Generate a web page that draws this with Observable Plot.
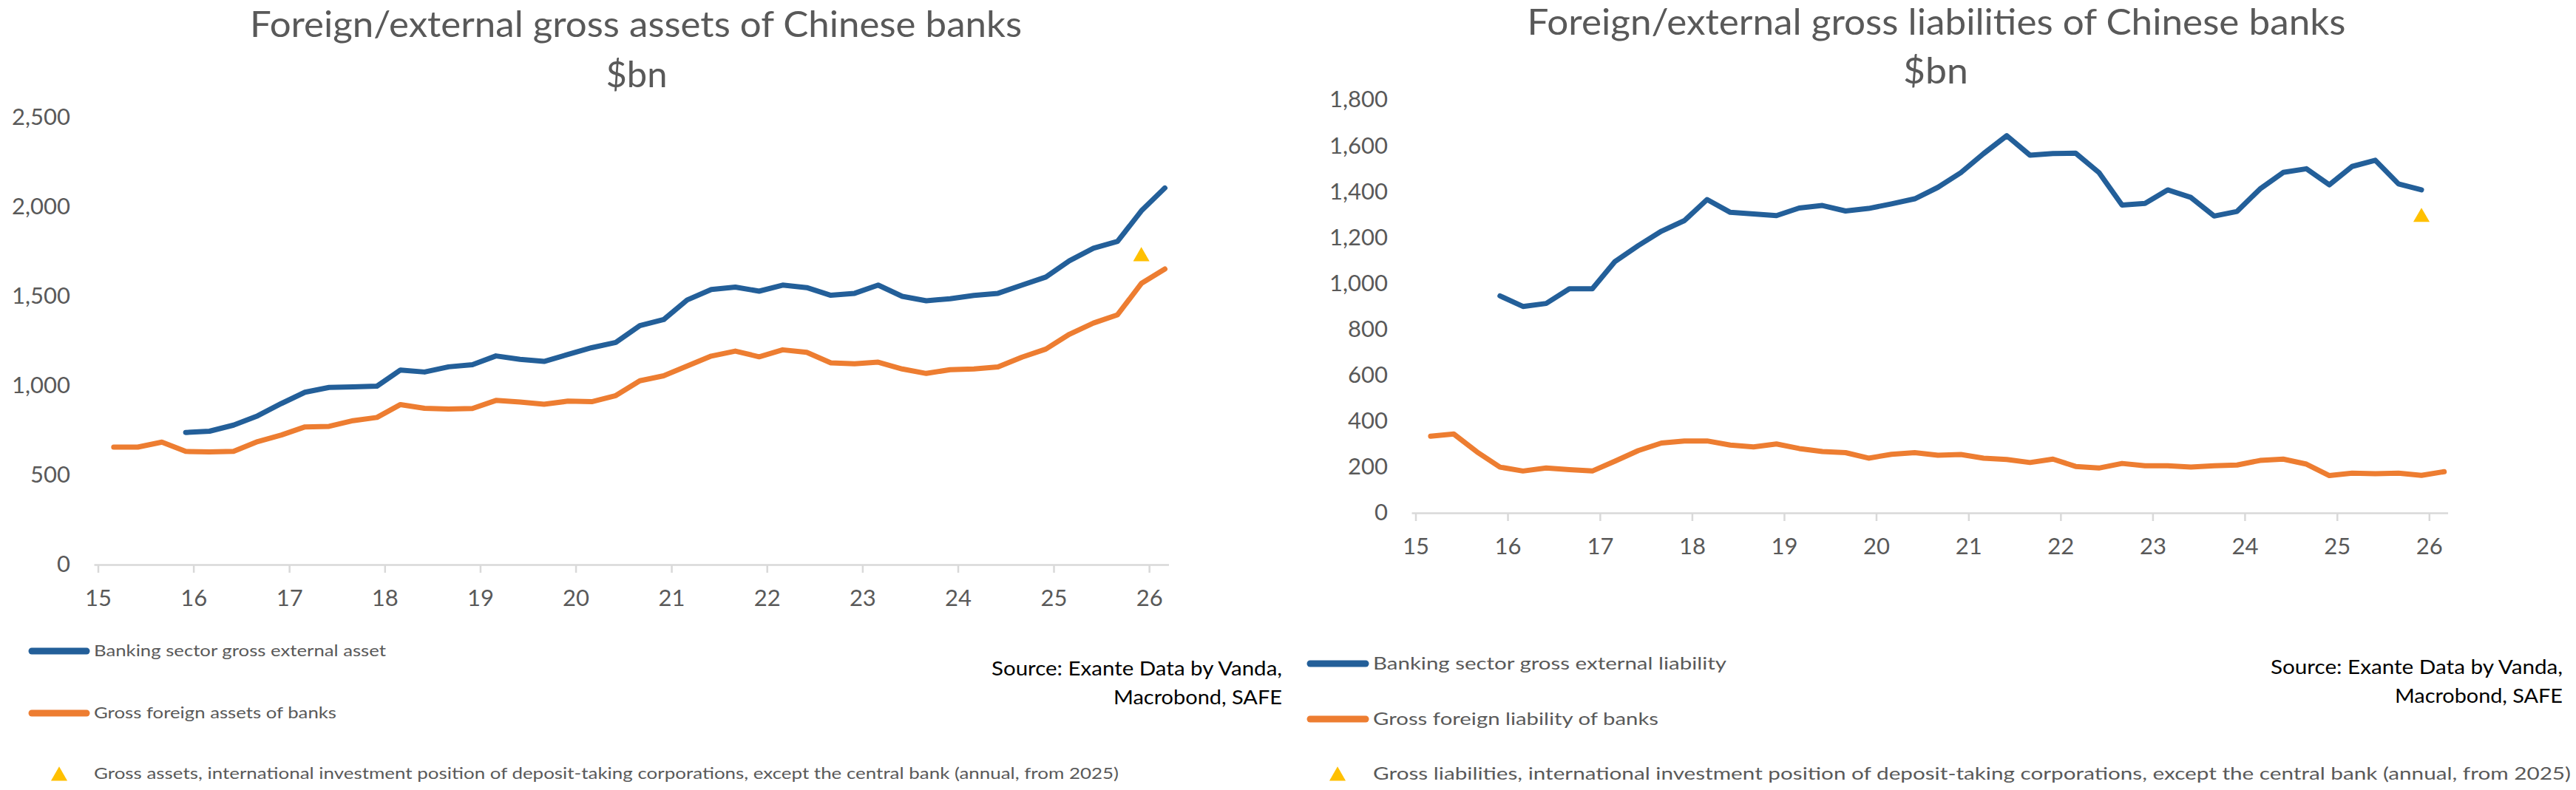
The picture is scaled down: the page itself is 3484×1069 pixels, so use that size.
<!DOCTYPE html>
<html>
<head>
<meta charset="utf-8">
<script src="https://cdn.jsdelivr.net/npm/d3@7"></script>
<script src="https://cdn.jsdelivr.net/npm/@observablehq/plot@0.6"></script>
<style>
  html, body { margin: 0; padding: 0; background: #ffffff; }
  #page { position: relative; width: 3484px; height: 1069px; background: #ffffff; overflow: hidden; }
  #page svg.chart { position: absolute; top: 0; }
  #overlay { position: absolute; left: 0; top: 0; }
</style>
</head>
<body>
<div id="page"></div>
<script>
// ---------- data ----------
const quarters = [
  "2015-03-15","2015-06-15","2015-09-15","2015-12-15",
  "2016-03-15","2016-06-15","2016-09-15","2016-12-15",
  "2017-03-15","2017-06-15","2017-09-15","2017-12-15",
  "2018-03-15","2018-06-15","2018-09-15","2018-12-15",
  "2019-03-15","2019-06-15","2019-09-15","2019-12-15",
  "2020-03-15","2020-06-15","2020-09-15","2020-12-15",
  "2021-03-15","2021-06-15","2021-09-15","2021-12-15",
  "2022-03-15","2022-06-15","2022-09-15","2022-12-15",
  "2023-03-15","2023-06-15","2023-09-15","2023-12-15",
  "2024-03-15","2024-06-15","2024-09-15","2024-12-15",
  "2025-03-15","2025-06-15","2025-09-15","2025-12-15",
  "2026-03-15"
];

// Left chart: gross assets ($bn)
const bankingSectorGrossExternalAsset = [
  null, null, null, 741,
  748, 782, 834, 903,
  966, 993, 996, 1000,
  1090, 1079, 1108, 1120,
  1169, 1150, 1138, 1177,
  1215, 1244, 1338, 1372,
  1482, 1540, 1554, 1531,
  1565, 1551, 1508, 1519,
  1565, 1502, 1477, 1489,
  1507, 1519, 1565, 1610,
  1701, 1771, 1809, 1980,
  2108
];
const grossForeignAssetsOfBanks = [
  659, 659, 687, 635,
  632, 635, 690, 727,
  772, 775, 807, 825,
  897, 876, 872, 875,
  920, 911, 899, 916,
  913, 947, 1030, 1058,
  1113, 1168, 1196, 1164,
  1203, 1189, 1130, 1125,
  1134, 1096, 1071, 1092,
  1096, 1107, 1162, 1207,
  1290, 1353, 1399, 1574,
  1655
];
const iipAssetsDate = ["2025-12-15"];
const iipAssetsValue = [1725];

// Right chart: gross liabilities ($bn)
const bankingSectorGrossExternalLiability = [
  null, null, null, 947,
  901, 914, 978, 978,
  1097, 1166, 1229, 1275,
  1367, 1311, 1304, 1297,
  1330, 1341, 1317, 1328,
  1348, 1370, 1420, 1484,
  1567, 1645, 1560, 1567,
  1569, 1485, 1343, 1350,
  1409, 1376, 1295, 1315,
  1413, 1485, 1501, 1431,
  1511, 1538, 1435, 1409,
  null
];
const grossForeignLiabilityOfBanks = [
  336, 345, 267, 201,
  184, 197, 190, 184,
  227, 273, 306, 315,
  315, 297, 289, 302,
  282, 269, 264, 240,
  257, 264, 253, 256,
  240, 234, 221, 236,
  204, 197, 217, 207,
  207, 201, 207, 210,
  230, 236, 214, 164,
  175, 172, 175, 165,
  181
];
const iipLiabilitiesDate = ["2025-12-15"];
const iipLiabilitiesValue = [1290];

// Axis ticks
const xTickYears = [2015, 2016, 2017, 2018, 2019, 2020, 2021, 2022, 2023, 2024, 2025, 2026];
const xTickLabels = ["15","16","17","18","19","20","21","22","23","24","25","26"];
const yTicksAssets = [0, 500, 1000, 1500, 2000, 2500];
const yTicksLiabilities = [0, 200, 400, 600, 800, 1000, 1200, 1400, 1600, 1800];

// Text
const titles = {
  left: ["Foreign/external gross assets of Chinese banks", "$bn"],
  right: ["Foreign/external gross liabilities of Chinese banks", "$bn"]
};
const legendLeft = [
  "Banking sector gross external asset",
  "Gross foreign assets of banks",
  "Gross assets, international investment position of deposit-taking corporations, except the central bank (annual, from 2025)"
];
const legendRight = [
  "Banking sector gross external liability",
  "Gross foreign liability of banks",
  "Gross liabilities, international investment position of deposit-taking corporations, except the central bank (annual, from 2025)"
];
const sourceLines = ["Source: Exante Data by Vanda,", "Macrobond, SAFE"];

// ---------- style ----------
const BLUE = "#235F99";
const ORANGE = "#ED7D31";
const GOLD = "#FFC000";
const GREY_TEXT = "#595959";
const AXIS_GREY = "#D9D9D9";

const page = document.getElementById("page");
const xDomain = [new Date("2015-01-01"), new Date("2026-04-01")];
const xTickDates = xTickYears.map(y => new Date(Date.UTC(y, 0, 1)));
const fmtTick = d => xTickLabels[xTickYears.indexOf(d.getUTCFullYear())];

function makeChart({blue, orange, triDate, triValue, yMax, yTicks, left, marginLeft, marginRight, marginTop, marginBottom}) {
  const width = 1742, height = 860;
  const rows = quarters.map((q, i) => ({date: new Date(q), blue: blue[i], orange: orange[i]}));
  const tri = triDate.map((d, i) => ({date: new Date(d), value: triValue[i]}));
  const svg = Plot.plot({
    width, height, marginLeft, marginRight, marginTop, marginBottom,
    style: {fontFamily: "Lato, 'Open Sans', sans-serif", fontSize: "31px", color: GREY_TEXT, background: "transparent", overflow: "visible"},
    x: {type: "utc", domain: xDomain, label: null},
    y: {domain: [0, yMax], label: null},
    marks: [
      Plot.axisY({ticks: yTicks, tickSize: 0, tickPadding: 33, tickFormat: d3.format(","), fill: GREY_TEXT, fontSize: 31, label: null}),
      Plot.axisX({ticks: xTickDates, tickFormat: fmtTick, tickSize: 11, tickPadding: 22, stroke: AXIS_GREY, strokeWidth: 2.5, fill: GREY_TEXT, fontSize: 31, dx: 5, label: null}),
      Plot.ruleY([0], {stroke: AXIS_GREY, strokeWidth: 2.5}),
      Plot.line(rows, {x: "date", y: "blue", stroke: BLUE, strokeWidth: 7, strokeLinecap: "round", strokeLinejoin: "round"}),
      Plot.line(rows, {x: "date", y: "orange", stroke: ORANGE, strokeWidth: 7, strokeLinecap: "round", strokeLinejoin: "round"}),
      Plot.dot(tri, {x: "date", y: "value", symbol: "triangle", r: 8.2, fill: GOLD})
    ]
  });
  svg.classList.add("chart");
  svg.style.left = left + "px";
  page.appendChild(svg);
}

makeChart({
  blue: bankingSectorGrossExternalAsset, orange: grossForeignAssetsOfBanks,
  triDate: iipAssetsDate, triValue: iipAssetsValue,
  yMax: 2500, yTicks: yTicksAssets, left: 0,
  marginLeft: 127.5, marginRight: 161, marginTop: 159, marginBottom: 96
});
makeChart({
  blue: bankingSectorGrossExternalLiability, orange: grossForeignLiabilityOfBanks,
  triDate: iipLiabilitiesDate, triValue: iipLiabilitiesValue,
  yMax: 1800, yTicks: yTicksLiabilities, left: 1742,
  marginLeft: 167.5, marginRight: 173, marginTop: 135, marginBottom: 166
});

// ---------- overlay: titles, legends, sources ----------
const ov = d3.select(page).append("svg")
  .attr("id", "overlay").attr("width", 3484).attr("height", 1069)
  .style("font-family", "Lato, 'Open Sans', sans-serif");

function txt(str, x, y, size, len, anchor, color) {
  const t = ov.append("text").attr("x", x).attr("y", y)
    .attr("font-size", size).attr("fill", color).attr("text-anchor", anchor)
    .text(str);
  if (len) t.attr("textLength", len).attr("lengthAdjust", "spacingAndGlyphs");
  return t;
}
function legLine(x1, x2, y, color) {
  ov.append("line").attr("x1", x1).attr("x2", x2).attr("y1", y).attr("y2", y)
    .attr("stroke", color).attr("stroke-width", 9).attr("stroke-linecap", "round");
}
function legTri(cx, cy) {
  ov.append("path").attr("transform", `translate(${cx},${cy})`)
    .attr("d", d3.symbol(d3.symbolTriangle, Math.PI * 8.2 * 8.2)()).attr("fill", GOLD);
}

// titles
txt(titles.left[0], 860, 50, 48, 1044, "middle", GREY_TEXT);
txt(titles.left[1], 861, 118, 48, 83, "middle", GREY_TEXT);
txt(titles.right[0], 2619, 47, 48, 1107, "middle", GREY_TEXT);
txt(titles.right[1], 2618, 113, 48, 88, "middle", GREY_TEXT);

// left legend
legLine(43, 117, 881, BLUE);
txt(legendLeft[0], 127, 888, 22, 395, "start", GREY_TEXT);
legLine(43, 117, 965, ORANGE);
txt(legendLeft[1], 127, 972, 22, 328, "start", GREY_TEXT);
legTri(80, 1050);
txt(legendLeft[2], 127, 1054, 22, 1386, "start", GREY_TEXT);
txt(sourceLines[0], 1734, 914, 26.5, 393, "end", "#000000");
txt(sourceLines[1], 1734, 953, 26.5, 228, "end", "#000000");

// right legend
legLine(1772, 1847, 898, BLUE);
txt(legendRight[0], 1857, 906, 23, 478, "start", GREY_TEXT);
legLine(1772, 1847, 973, ORANGE);
txt(legendRight[1], 1857, 981, 23, 386, "start", GREY_TEXT);
legTri(1809, 1050);
txt(legendRight[2], 1857, 1055, 23, 1620, "start", GREY_TEXT);
txt(sourceLines[0], 3466, 912, 26.5, 395, "end", "#000000");
txt(sourceLines[1], 3466, 951, 26.5, 227, "end", "#000000");
</script>
</body>
</html>
